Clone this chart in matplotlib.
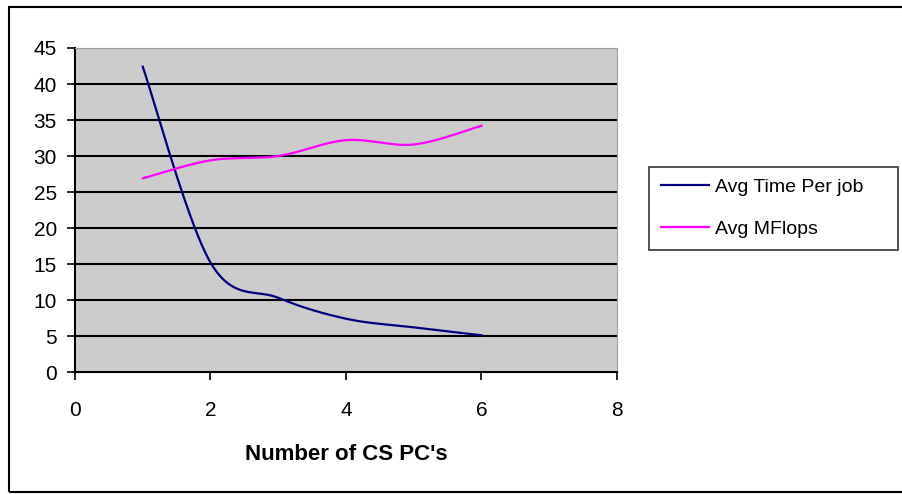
import numpy as np
import matplotlib.pyplot as plt
from matplotlib.patches import Rectangle

plt.rcParams['font.family'] = ['Liberation Sans', 'DejaVu Sans']

# data
pcs = [1, 2, 3, 4, 5, 6]
avgTime = [42.4, 15.2, 10.3, 7.4, 6.2, 5.1]
avgMflops = [26.9, 29.4, 30.0, 32.2, 31.6, 34.2]


def smooth(x, y, n=40):
    # Excel-like smoothed line: cubic Bezier through the points (Catmull-Rom style)
    pts = np.column_stack([np.asarray(x, float), np.asarray(y, float)])
    out = []
    for i in range(len(pts) - 1):
        p0 = pts[i - 1] if i > 0 else pts[i]
        p1 = pts[i]
        p2 = pts[i + 1]
        p3 = pts[i + 2] if i + 2 < len(pts) else pts[i + 1]
        c1 = p1 + (p2 - p0) / 6.0
        c2 = p2 - (p3 - p1) / 6.0
        t = np.linspace(0, 1, n)[:, None]
        seg = ((1 - t) ** 3) * p1 + 3 * ((1 - t) ** 2) * t * c1 + 3 * (1 - t) * t ** 2 * c2 + t ** 3 * p2
        out.append(seg if i == 0 else seg[1:])
    out = np.vstack(out)
    return out[:, 0], out[:, 1]


fig = plt.figure(figsize=(9.02, 4.94), dpi=100)
fig.patch.set_facecolor('white')

# outer chart frame
fig.patches.append(Rectangle((9 / 902, 2 / 494), 1.0, 485 / 494, transform=fig.transFigure,
                             facecolor='none', edgecolor='black', linewidth=1.5))

ax = fig.add_axes([75 / 902, 122 / 494, 542 / 902, 324 / 494])
ax.set_facecolor('#cccccc')

for v in range(5, 50, 5):
    ax.axhline(v, color='black', linewidth=1.5, zorder=1)

sx, sy = smooth(pcs, avgTime)
ax.plot(sx, sy, color='#000080', linewidth=1.6, label='Avg Time Per job', zorder=3)
sx, sy = smooth(pcs, avgMflops)
ax.plot(sx, sy, color='#ff00ff', linewidth=1.6, label='Avg MFlops', zorder=3)

ax.set_xlim(0, 8)
ax.set_ylim(0, 45)
ax.set_xticks([0, 2, 4, 6, 8])
ax.set_yticks(range(0, 50, 5))
ax.tick_params(axis='both', direction='out', length=6, width=1.2, colors='black', labelsize=15)
ax.tick_params(axis='x', pad=15)
ax.tick_params(axis='y', pad=7)

ax.spines['left'].set_linewidth(1.5)
ax.spines['bottom'].set_linewidth(1.5)
ax.spines['top'].set_color('#a0a0a0')
ax.spines['right'].set_color('#a0a0a0')

ax.set_xlabel("Number of CS PC's", fontsize=16, fontweight='bold', labelpad=17)

leg = ax.legend(loc='upper left', bbox_to_anchor=(649 / 902, 246 / 494, 249 / 902, 81 / 494),
                bbox_transform=fig.transFigure, mode='expand',
                fontsize=14, frameon=True, fancybox=False, edgecolor='black', handlelength=2.5,
                handletextpad=0.3, borderaxespad=0, borderpad=0.6, labelspacing=1.25)
leg.get_frame().set_linewidth(1.2)

fig.savefig('out.png', dpi=100)
